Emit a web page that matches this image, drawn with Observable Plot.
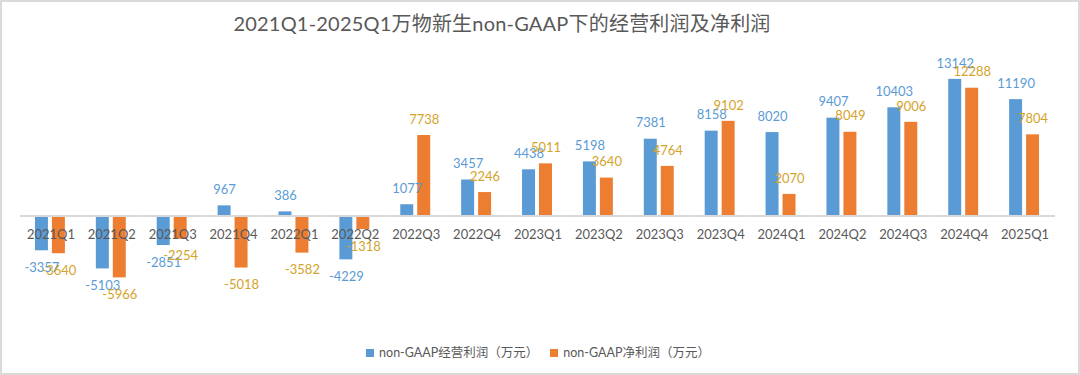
<!DOCTYPE html>
<html>
<head>
<meta charset="utf-8">
<script src="https://cdn.jsdelivr.net/npm/d3@7"></script>
<script src="https://cdn.jsdelivr.net/npm/@observablehq/plot@0.6"></script>
<style>
  html, body { margin: 0; padding: 0; background: #fff; }
  #chart {
    position: relative; width: 1080px; height: 375px; box-sizing: border-box;
    border: 2px solid #dadada; background: #fff; overflow: hidden;
    font-family: Lato, "Noto Sans CJK SC", sans-serif;
  }
  #title {
    position: absolute; left: 0; top: 6px; width: 1000px; text-align: center;
    font-size: 20px; color: #595959; line-height: 30px; letter-spacing: 0.2px;
  }
  #plot { position: absolute; left: -2px; top: 43px; }
  #legend {
    position: absolute; left: 0; top: 342px; width: 1072px; text-align: center;
    font-size: 12.5px; color: #595959; line-height: 18px;
  }
  .sw { display: inline-block; width: 8px; height: 8px; margin-right: 5px; vertical-align: 0px; }
  .item { display: inline-block; margin: 0 6px; }
</style>
</head>
<body>
<div id="chart">
  <div id="title">2021Q1-2025Q1万物新生non-GAAP下的经营利润及净利润</div>
  <div id="plot"></div>
  <div id="legend"></div>
</div>
<script>
const quarters = ["2021Q1","2021Q2","2021Q3","2021Q4","2022Q1","2022Q2","2022Q3","2022Q4",
  "2023Q1","2023Q2","2023Q3","2023Q4","2024Q1","2024Q2","2024Q3","2024Q4","2025Q1"];
const opProfit = [-3357,-5103,-2851,967,386,-4229,1077,3457,4438,5198,7381,8158,8020,9407,10403,13142,11190];
const netProfit = [-3640,-5966,-2254,-5018,-3582,-1318,7738,2246,5011,3640,4764,9102,2070,8049,9006,12288,7804];
const seriesNames = ["non-GAAP经营利润（万元）","non-GAAP净利润（万元）"];
const barColors = ["#5B9BD5","#ED7D31"];
const labelColors = ["#5B9BD5","#D4A32A"];

const data = [];
quarters.forEach((q, i) => {
  data.push({q, s: seriesNames[0], v: opProfit[i]});
  data.push({q, s: seriesNames[1], v: netProfit[i]});
});

const font = 'Lato, "Noto Sans CJK SC", sans-serif';

const chart = Plot.plot({
  width: 1080,
  height: 290,
  marginLeft: 15,
  marginRight: 19,
  marginTop: 25,
  marginBottom: 36,
  style: {fontFamily: font, background: "transparent"},
  fx: {domain: quarters, padding: 0, axis: null},
  x: {domain: seriesNames, paddingInner: 0.22, paddingOuter: 0.82, axis: null},
  y: {domain: [-8000, 14000], axis: null},
  color: {domain: seriesNames, range: barColors},
  marks: [
    Plot.barY(data, {fx: "q", x: "s", y: "v", fill: "s"}),
    Plot.ruleY([0], {stroke: "#d9d9d9", strokeWidth: 2}),
    Plot.text(quarters, {fx: d => d, frameAnchor: "middle", y: 0, dy: 19, text: d => d,
      fill: "#595959", fontSize: 13}),
    Plot.text(data.filter(d => d.v >= 0), {fx: "q", x: "s", y: "v", dy: -16, text: d => String(d.v),
      fill: d => labelColors[seriesNames.indexOf(d.s)], fontSize: 13}),
    Plot.text(data.filter(d => d.v < 0), {fx: "q", x: "s", y: "v", dy: 17, text: d => String(d.v),
      fill: d => labelColors[seriesNames.indexOf(d.s)], fontSize: 13})
  ]
});
document.getElementById("plot").appendChild(chart);

const legend = document.getElementById("legend");
seriesNames.forEach((name, i) => {
  const item = document.createElement("span");
  item.className = "item";
  const sw = document.createElement("span");
  sw.className = "sw";
  sw.style.background = barColors[i];
  item.appendChild(sw);
  item.appendChild(document.createTextNode(name));
  legend.appendChild(item);
});
</script>
</body>
</html>
